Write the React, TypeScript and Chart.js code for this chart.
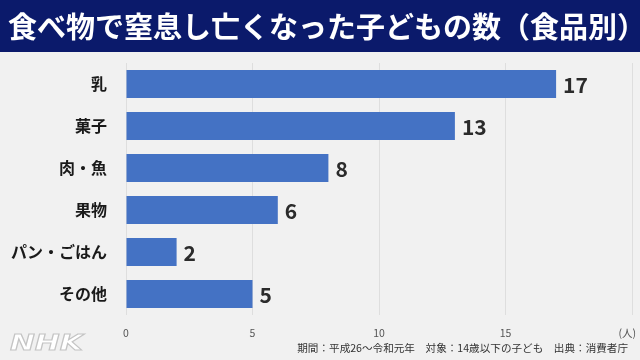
import React, { useEffect, useRef } from "react";
import { Chart, registerables } from "chart.js";

Chart.register(...registerables);

const TITLE = "食べ物で窒息し亡くなった子どもの数（食品別）";
const CATEGORIES = ["乳", "菓子", "肉・魚", "果物", "パン・ごはん", "その他"];
const VALUES = [17, 13, 8, 6, 2, 5];
const X_TICKS = [0, 5, 10, 15, 20];
const UNIT_LABEL = "(人)";
const FOOTER = "期間：平成26～令和元年　対象：14歳以下の子ども　出典：消費者庁";
const LOGO = "NHK";

const JP = '"Noto Sans CJK JP", "Noto Sans", sans-serif';

const decorPlugin = {
  id: "decor",
  beforeDraw(chart: any) {
    const { ctx, width, height } = chart;
    ctx.save();
    ctx.fillStyle = "#f1f1f1";
    ctx.fillRect(0, 0, width, height);
    ctx.fillStyle = "#0b1a6b";
    ctx.fillRect(0, 0, width, 52);
    ctx.fillStyle = "#ffffff";
    ctx.font = `bold 29px ${JP}`;
    ctx.textBaseline = "middle";
    ctx.textAlign = "left";
    ctx.fillText(TITLE, 8, 27);
    ctx.restore();
  },
  afterDraw(chart: any) {
    const { ctx } = chart;
    const meta = chart.getDatasetMeta(0);
    ctx.save();
    ctx.fillStyle = "#2b2b2b";
    ctx.font = `bold 21px ${JP}`;
    ctx.textBaseline = "middle";
    ctx.textAlign = "left";
    meta.data.forEach((bar: any, i: number) => {
      ctx.fillText(String(VALUES[i]), bar.x + 7, bar.y + 1);
    });
    // unit label at the last tick position, nudged inside
    const xs = chart.scales.x;
    ctx.fillStyle = "#555555";
    ctx.font = `10.5px ${JP}`;
    ctx.textAlign = "right";
    ctx.fillText(UNIT_LABEL, xs.getPixelForValue(X_TICKS[X_TICKS.length - 1]) + 4, 333);
    ctx.fillStyle = "#333333";
    ctx.font = `10.6px ${JP}`;
    ctx.textAlign = "right";
    ctx.fillText(FOOTER, 628, 348);
    ctx.translate(10, 344);
    ctx.scale(1.35, 1);
    ctx.font = `italic bold 22px "DejaVu Sans", sans-serif`;
    ctx.textAlign = "left";
    ctx.lineWidth = 1;
    ctx.strokeStyle = "#c4c4c4";
    ctx.fillStyle = "#ffffff";
    ctx.fillText(LOGO, 0, 0);
    ctx.strokeText(LOGO, 0, 0);
    ctx.restore();
  },
};

export default function App() {
  const ref = useRef<HTMLCanvasElement | null>(null);
  useEffect(() => {
    if (!ref.current) return;
    const chart = new Chart(ref.current, {
      type: "bar",
      data: {
        labels: CATEGORIES,
        datasets: [
          {
            data: VALUES,
            backgroundColor: "#4472c4",
            borderWidth: 0,
            categoryPercentage: 0.67,
            barPercentage: 1,
          },
        ],
      },
      options: {
        indexAxis: "y",
        animation: false,
        responsive: false,
        layout: { padding: { top: 63, right: 8, left: 0, bottom: 0 } },
        plugins: { legend: { display: false }, tooltip: { enabled: false } },
        scales: {
          x: {
            min: 0,
            max: 20,
            afterBuildTicks(scale: any) {
              scale.ticks = X_TICKS.map((v) => ({ value: v }));
            },
            afterFit(scale: any) {
              scale.height = 45;
              scale.paddingRight = 0;
              scale.paddingLeft = 0;
            },
            ticks: {
              padding: 12,
              color: "#555555",
              font: { size: 10.5, family: JP },
              callback: (v: any) => (v === X_TICKS[X_TICKS.length - 1] ? "" : String(v)),
            },
            grid: { color: "#dedede", drawTicks: false },
            border: { display: false },
          },
          y: {
            afterFit(scale: any) {
              scale.width = 126;
            },
            ticks: {
              padding: 19,
              color: "#1a1a1a",
              font: { size: 16, weight: "bold", family: JP },
            },
            grid: { display: false, drawTicks: false },
            border: { display: false },
          },
        },
      },
      plugins: [decorPlugin],
    } as any);
    return () => chart.destroy();
  }, []);
  return (
    <div style={{ position: "fixed", left: 0, top: 0, width: 640, height: 360 }}>
      <canvas ref={ref} width={640} height={360} style={{ display: "block" }} />
    </div>
  );
}
